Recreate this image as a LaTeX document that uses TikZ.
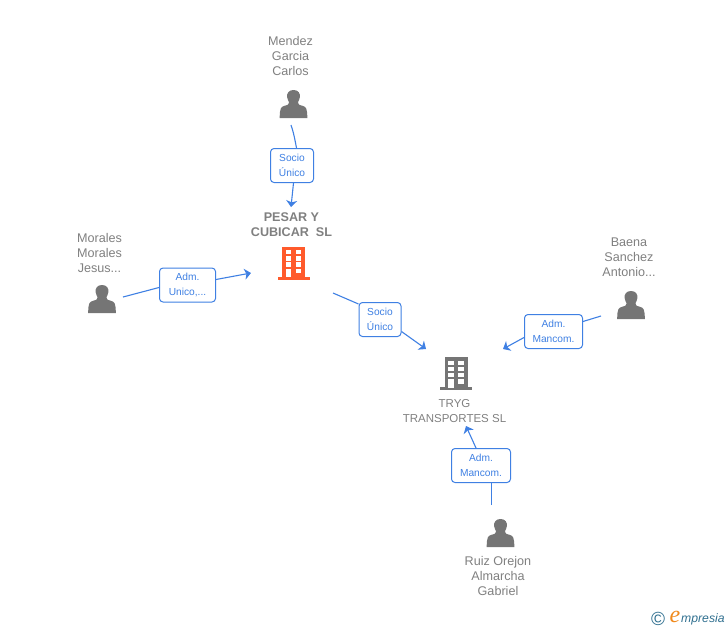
\documentclass[tikz,border=0pt]{standalone}
\usepackage{fontspec}
\setmainfont{Liberation Sans}
\newfontfamily\logoserif{Liberation Serif}
\usetikzlibrary{arrows.meta}
\definecolor{txtgray}{HTML}{808080}
\definecolor{icongray}{HTML}{757575}
\definecolor{linkblue}{HTML}{3F80E3}
\definecolor{orangeb}{HTML}{FF5A2B}
\definecolor{logoteal}{HTML}{2F6F8F}
\definecolor{logoorange}{HTML}{F08A1D}
\tikzset{
  x=1pt,y=-1pt,
  lbl/.style={align=center,text=txtgray,font=\fontsize{12.6}{15}\selectfont,inner sep=0pt},
  boldlbl/.style={lbl,font=\fontsize{12.6}{15}\selectfont\bfseries},
  orglbl/.style={lbl,font=\fontsize{11.5}{15}\selectfont},
  rel/.style={draw=linkblue,line width=1pt,rounded corners=3.5pt,fill=white,text=linkblue,align=center,
    font=\fontsize{10.2}{15}\selectfont,inner sep=0pt,anchor=north west},
  conn/.style={draw=linkblue,line width=1.1pt},
  arr/.style={conn,-{Stealth[length=6.5pt,width=11pt,inset=1.8pt]}},
  icon/.style={minimum width=30pt,minimum height=30pt,inner sep=0pt},
  pics/person/.style={code={
    \fill[icongray] (0,-14) .. controls (-5,-14) and (-6.8,-10.5) .. (-6.4,-7)
      .. controls (-6.1,-4.6) and (-5,-3) .. (-4.4,-1.8)
      .. controls (-4.4,0.2) and (-5.5,1) .. (-9,1.8)
      .. controls (-12.5,2.8) and (-13.8,4) .. (-13.8,14) -- (13.8,14)
      .. controls (13.8,4) and (12.5,2.8) .. (9,1.8)
      .. controls (5.5,1) and (4.4,0.2) .. (4.4,-1.8)
      .. controls (5,-3) and (6.1,-4.6) .. (6.4,-7)
      .. controls (6.8,-10.5) and (5,-14) .. (0,-14) -- cycle;
  }},
  pics/building/.style={code={
    \fill[#1] (-11.5,-16.5) rectangle (11.5,14);
    \fill[#1] (-16,13.8) rectangle (16,16.5);
    \foreach \yy in {-13,-6.8,-0.6}{
      \fill[white] (-8,\yy) rectangle (-2.3,\yy+4.4);
      \fill[white] (2,\yy) rectangle (7.7,\yy+4.4);
    }
    \fill[white] (-8,5.6) rectangle (-2.3,14);
    \fill[white] (2,5.6) rectangle (7.7,10);
  }},
}
\begin{document}
\begin{tikzpicture}
\useasboundingbox (0,0) rectangle (728,630);
% labels
\node[lbl] (tmendez) at (290.5,56) {Mendez\\Garcia\\Carlos};
\node[lbl] (tmorales) at (99.5,252.5) {Morales\\Morales\\Jesus...};
\node[lbl] (tbaena) at (629,257.5) {Baena\\Sanchez\\Antonio...};
\node[lbl] (truiz) at (498,576) {Ruiz Orejon\\Almarcha\\Gabriel};
\node[boldlbl] (tpesar) at (291.5,224.5) {PESAR Y\\CUBICAR\ \ SL};
\node[orglbl] (ttryg) at (454.5,411) {TRYG\\TRANSPORTES SL};
% icons
\node[icon] (imendez) at (293.5,104) {};
\node[icon] (imorales) at (102,299) {};
\node[icon] (ibaena) at (631,305) {};
\node[icon] (iruiz) at (500.5,533) {};
\node[icon] (ipesar) at (293.5,263) {};
\node[icon] (itryg) at (456,373.5) {};
\pic at (imendez) {person};
\pic at (imorales) {person};
\pic at (ibaena) {person};
\pic at (iruiz) {person};
\pic at (ipesar) {building=orangeb};
\pic at (itryg) {building=icongray};
% free ends
\coordinate (s1) at (291,125);
\coordinate (e1) at (291,207);
\coordinate (s2) at (123,297);
\coordinate (e2) at (251,273);
\coordinate (s3) at (333,293);
\coordinate (e3) at (426,349);
\coordinate (s4) at (601,316);
\coordinate (e4) at (503,349);
\coordinate (s5) at (491.5,505);
\coordinate (e5) at (466,426);
% relation boxes
\node[rel,minimum width=43pt,minimum height=34pt] (b1) at (270,148) {Socio\\Único};
\node[rel,minimum width=56pt,minimum height=34pt] (b2) at (159,267.5) {Adm.\\Unico,...};
\node[rel,minimum width=42pt,minimum height=34pt] (b3) at (358.5,302) {Socio\\Único};
\node[rel,minimum width=58pt,minimum height=34pt] (b4) at (524,314) {Adm.\\Mancom.};
\node[rel,minimum width=59pt,minimum height=34pt] (b5) at (451,448) {Adm.\\Mancom.};
% connectors
\draw[conn] (s1) .. controls (293.5,132) and (295,140) .. ([xshift=4.5pt]b1.north);
\draw[arr] ([xshift=1.5pt]b1.south) -- (e1);
\draw[conn] (s2) -- ([yshift=-2.5pt]b2.west);
\draw[arr] ([yshift=5.5pt]b2.east) -- (e2);
\draw[conn] (s3) -- ([yshift=-2pt]b3.west |- b3.north);
\draw[arr] ([yshift=-12pt]b3.east) -- (e3);
\draw[conn] (s4) -- ([yshift=10pt]b4.east);
\draw[arr] ([yshift=-6pt]b4.west) -- (e4);
\draw[conn] (s5) -- ([xshift=10.5pt]b5.south);
\draw[arr] ([xshift=-5pt]b5.north) -- (e5);
% logo
\node[inner sep=0pt,text=logoteal,font=\fontsize{19}{19}\selectfont] (lc) at (658,619) {©};
\node[inner sep=0pt,text=logoorange,font=\logoserif\itshape\fontsize{24}{24}\selectfont] (le) at (675,617) {e};
\node[inner sep=0pt,text=logoteal,anchor=west,font=\itshape\fontsize{12.2}{13}\selectfont] (lm) at (681,619.5) {mpresia};
\end{tikzpicture}
\end{document}
